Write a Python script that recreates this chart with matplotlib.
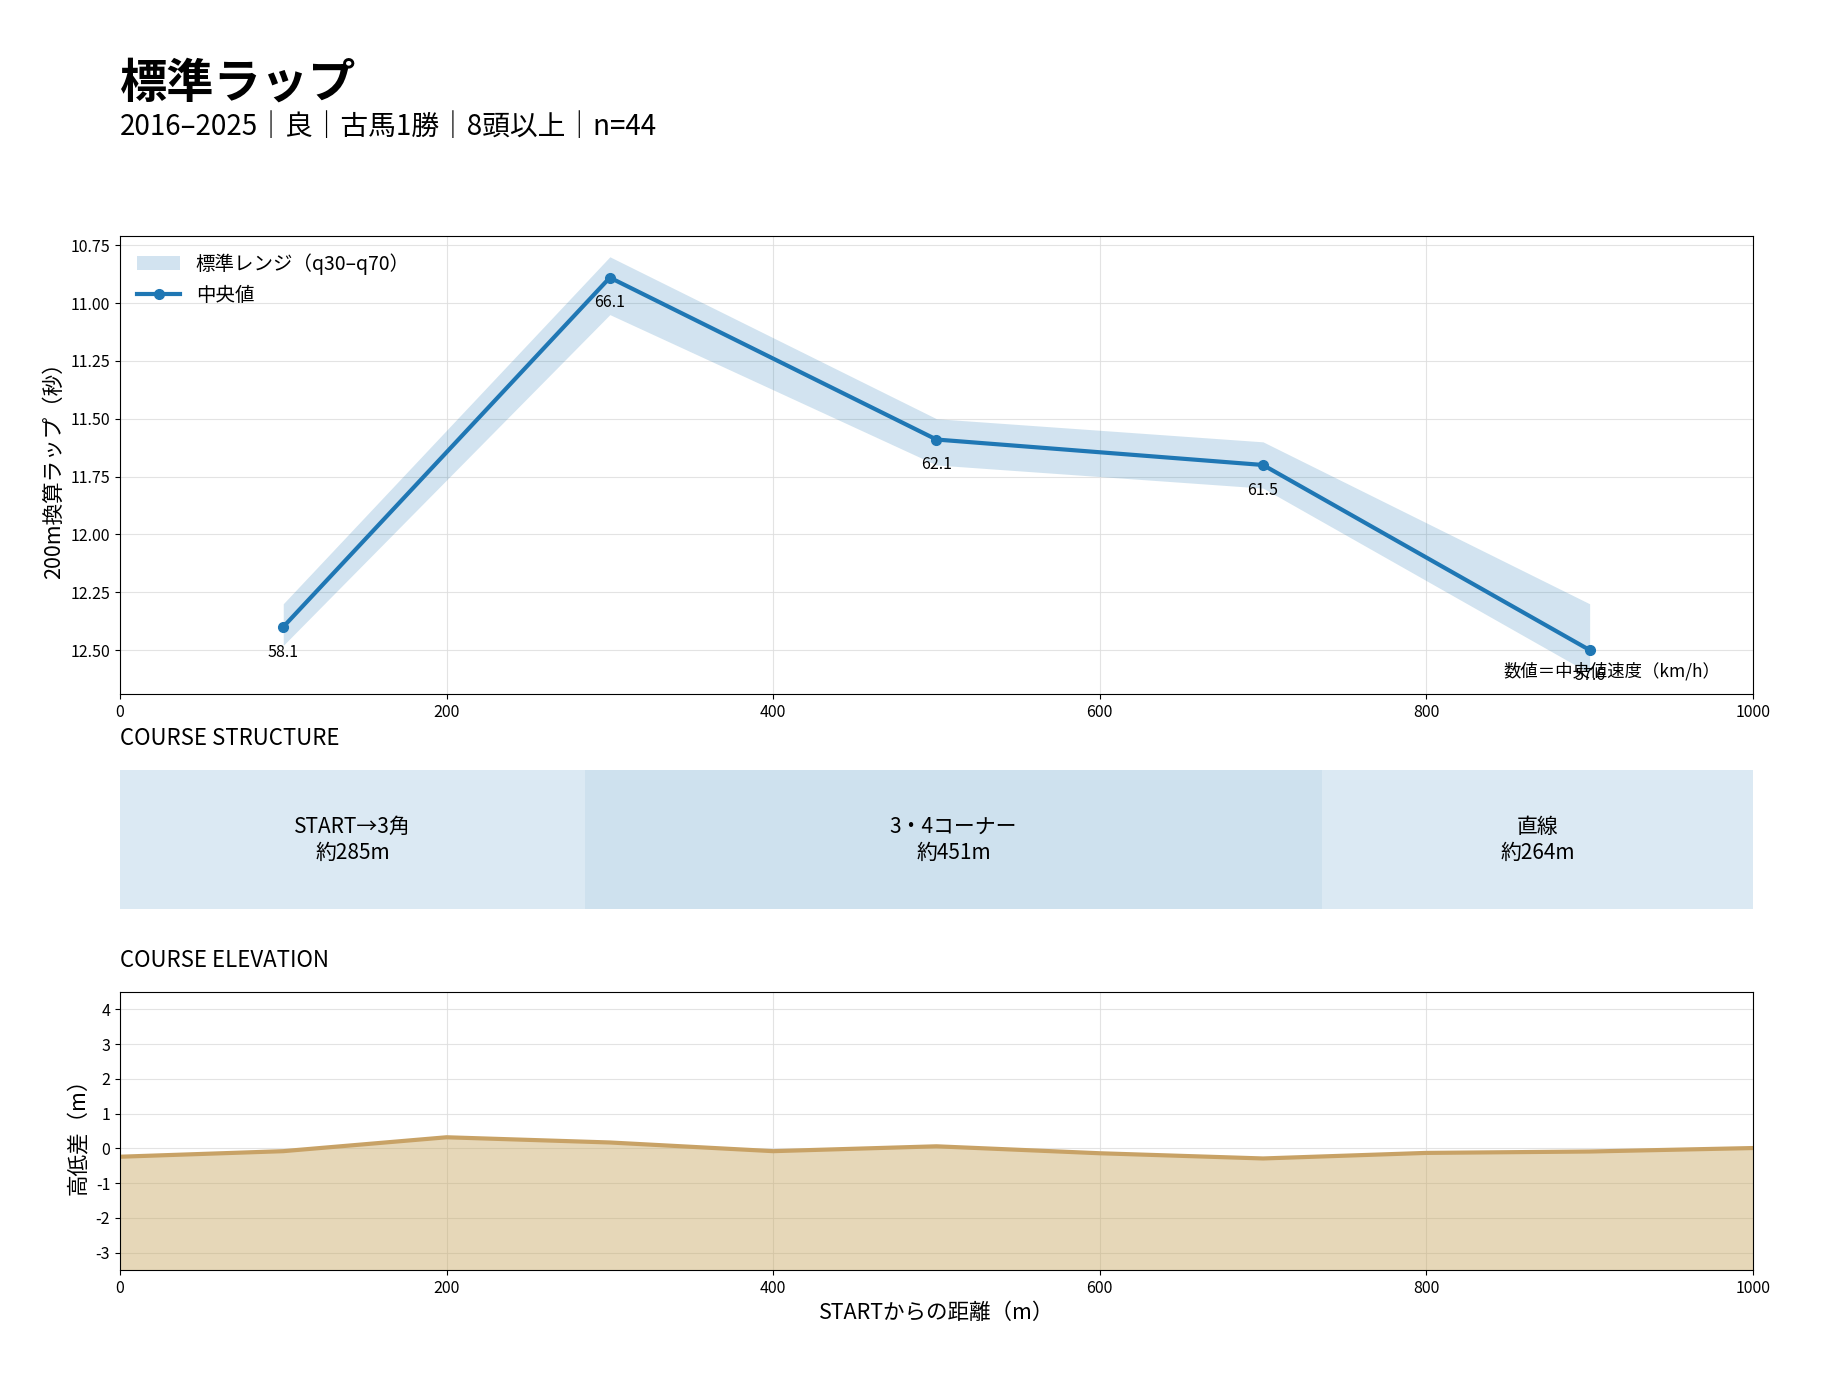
import numpy as np
import matplotlib
matplotlib.use('Agg')
import matplotlib.pyplot as plt

plt.rcParams['font.family'] = ['Noto Sans CJK JP', 'DejaVu Sans']
plt.rcParams['axes.unicode_minus'] = False

# data
dist = [100, 300, 500, 700, 900]  # m
lap_median = [12.40, 10.89, 11.59, 11.70, 12.50]  # sec / 200m
lap_q30 = [12.30, 10.80, 11.50, 11.60, 12.30]
lap_q70 = [12.48, 11.05, 11.70, 11.80, 12.60]
speed_labels = ['58.1', '66.1', '62.1', '61.5', '57.6']

section_names = ['START→3角', '3・4コーナー', '直線']
section_len = [285, 451, 264]

elev_x = [0, 100, 200, 300, 400, 500, 600, 700, 800, 900, 1000]
elev_y = [-0.24, -0.08, 0.32, 0.17, -0.08, 0.06, -0.14, -0.29, -0.13, -0.09, 0.01]

blue = '#1f77b4'
tan_line = '#c8a266'
tan_fill = '#c8a862'

fig = plt.figure(figsize=(18.34, 13.88), dpi=100)

fig.text(0.0654, 0.940, '標準ラップ', fontsize=34, fontweight='bold', va='center', ha='left')
fig.text(0.0654, 0.9085, '2016–2025｜良｜古馬1勝｜8頭以上｜n=44', fontsize=20, va='center', ha='left')

# lap chart
ax = fig.add_axes([0.0654, 0.500, 0.8904, 0.330])
ax.fill_between(dist, lap_q30, lap_q70, color=blue, alpha=0.2, linewidth=0,
                label='標準レンジ（q30–q70）')
ax.plot(dist, lap_median, color=blue, linewidth=3, marker='o', markersize=7, label='中央値')
for x, y, s in zip(dist, lap_median, speed_labels):
    ax.annotate(s, (x, y), xytext=(0, -12), textcoords='offset points',
                ha='center', va='top', fontsize=11.5)
ax.set_xlim(0, 1000)
ax.set_ylim(12.69, 10.71)
ax.set_yticks([10.75, 11.0, 11.25, 11.5, 11.75, 12.0, 12.25, 12.5])
ax.set_xticks([0, 200, 400, 600, 800, 1000])
ax.tick_params(labelsize=11.5)
ax.grid(True, color='#dddddd', linewidth=0.8, alpha=0.8)
ax.set_axisbelow(True)
ax.set_ylabel('200m換算ラップ（秒）', fontsize=15.5)
ax.text(0.98, 0.05, '数値＝中央値速度（km/h）', transform=ax.transAxes,
        ha='right', va='center', fontsize=12.5)
ax.legend(loc='upper left', frameon=False, fontsize=14, handlelength=2.2)

# course structure
ax2 = fig.add_axes([0.0654, 0.345, 0.8904, 0.100])
start = 0
alphas = [0.155, 0.215, 0.155]
for name, ln, a in zip(section_names, section_len, alphas):
    ax2.barh(0.5, ln, left=start, height=1.0, color=blue, alpha=a, linewidth=0)
    ax2.text(start + ln / 2, 0.5, f'{name}\n約{ln}m', ha='center', va='center', fontsize=15)
    start += ln
ax2.set_xlim(0, 1000)
ax2.set_ylim(0, 1)
ax2.axis('off')
ax2.set_title('COURSE STRUCTURE', loc='left', fontsize=16, pad=18)

# elevation
ax3 = fig.add_axes([0.0654, 0.085, 0.8904, 0.2003])
ax3.fill_between(elev_x, -3.5, elev_y, color=tan_fill, alpha=0.45, linewidth=0)
ax3.plot(elev_x, elev_y, color=tan_line, linewidth=3)
ax3.set_xlim(0, 1000)
ax3.set_ylim(-3.5, 4.5)
ax3.set_yticks([-3, -2, -1, 0, 1, 2, 3, 4])
ax3.set_xticks([0, 200, 400, 600, 800, 1000])
ax3.tick_params(labelsize=11.5)
ax3.grid(True, color='#dddddd', linewidth=0.8, alpha=0.8)
ax3.set_axisbelow(True)
ax3.set_ylabel('高低差（m）', fontsize=15.5)
ax3.set_xlabel('STARTからの距離（m）', fontsize=15.5)
ax3.set_title('COURSE ELEVATION', loc='left', fontsize=16, pad=18)

fig.savefig('out.png', dpi=100)
